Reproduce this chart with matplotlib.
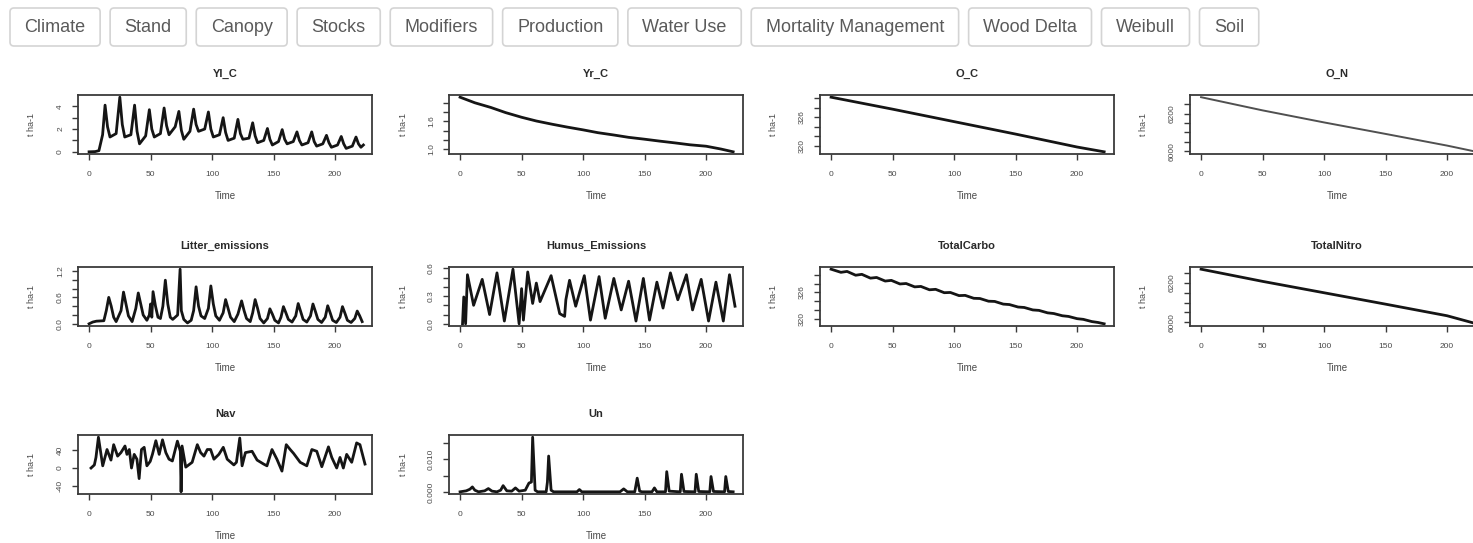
import matplotlib
matplotlib.use("Agg")
import matplotlib.pyplot as plt
from matplotlib.patches import FancyBboxPatch

W, H, DPI = 1473, 543, 100

# ---------------- data ----------------
tabs = ["Climate", "Stand", "Canopy", "Stocks", "Modifiers", "Production",
        "Water Use", "Mortality Management", "Wood Delta", "Weibull", "Soil"]

titles = ["Yl_C", "Yr_C", "O_C", "O_N",
          "Litter_emissions", "Humus_Emissions", "TotalCarbo", "TotalNitro",
          "Nav", "Un"]

x_ticks = [0, 50, 100, 150, 200]

yl_t = [0, 5, 8, 11, 13, 15, 17, 22, 25, 27, 29, 34, 37, 39, 41, 46, 49, 51, 53,
        58, 61, 63, 65, 70, 73, 75, 77, 82, 85, 87, 89, 94, 97, 99, 101, 106, 109,
        111, 113, 118, 121, 123, 125, 130, 133, 135, 137, 142, 145, 147, 149, 154,
        157, 159, 161, 166, 169, 171, 173, 178, 181, 183, 185, 190, 193, 195, 197,
        202, 205, 207, 209, 214, 217, 219, 221, 223]
yl_v = [0.0, 0.02, 0.1, 1.5, 4.1, 2.2, 1.3, 1.6, 4.8, 2.4, 1.3, 1.5, 4.1, 1.8, 0.7,
        1.4, 3.7, 2.0, 1.3, 1.6, 3.85, 2.3, 1.5, 2.2, 3.55, 1.9, 1.1, 1.8, 3.75, 2.4,
        1.8, 2.0, 3.5, 2.0, 1.3, 1.5, 3.0, 1.7, 1.0, 1.2, 2.85, 1.6, 1.1, 1.2, 2.55,
        1.4, 0.8, 1.0, 2.05, 1.1, 0.6, 0.9, 1.95, 1.1, 0.7, 0.9, 1.75, 1.0, 0.6, 0.8,
        1.75, 0.9, 0.5, 0.7, 1.45, 0.8, 0.4, 0.6, 1.35, 0.7, 0.3, 0.5, 1.3, 0.7, 0.4,
        0.6]

yr_t = [0, 12, 25, 37, 50, 62, 75, 87, 100, 112, 125, 137, 150, 162, 175, 187, 200, 212, 222]
yr_v = [2.12, 2.0, 1.9, 1.79, 1.69, 1.61, 1.54, 1.48, 1.42, 1.36, 1.31, 1.26, 1.22,
        1.18, 1.14, 1.10, 1.07, 1.01, 0.95]

oc_t = [0, 50, 100, 150, 200, 222]
oc_v = [330.2, 327.7, 325.1, 322.5, 319.8, 318.8]

on_t = [0, 50, 100, 150, 200, 224]
on_v = [6287, 6217, 6153, 6092, 6030, 5997]

lit_t = [0, 3, 6, 12, 14, 16, 18, 20, 22, 26, 28, 30, 32, 35, 38, 40, 42, 44, 47, 49,
         50, 51, 52, 54, 56, 58, 60, 62, 64, 66, 68, 72, 74, 75, 77, 80, 83, 85, 87,
         89, 91, 94, 97, 99, 101, 103, 106, 109, 111, 113, 115, 118, 121, 124, 126,
         128, 131, 133, 135, 137, 139, 142, 145, 147, 149, 151, 154, 156, 158, 160,
         162, 165, 168, 170, 172, 174, 177, 180, 182, 184, 186, 189, 192, 194, 196,
         198, 201, 204, 206, 208, 210, 213, 216, 218, 220, 222]
lit_v = [0.0, 0.04, 0.06, 0.07, 0.3, 0.6, 0.4, 0.15, 0.05, 0.3, 0.72, 0.45, 0.18,
         0.05, 0.35, 0.70, 0.45, 0.2, 0.08, 0.2, 0.45, 0.15, 0.73, 0.4, 0.15, 0.12,
         0.4, 0.99, 0.45, 0.15, 0.1, 0.2, 1.24, 0.3, 0.1, 0.02, 0.08, 0.3, 0.84, 0.4,
         0.18, 0.12, 0.35, 0.86, 0.45, 0.18, 0.08, 0.25, 0.55, 0.35, 0.15, 0.05, 0.22,
         0.52, 0.3, 0.12, 0.05, 0.25, 0.55, 0.35, 0.12, 0.02, 0.12, 0.34, 0.22, 0.08,
         0.02, 0.15, 0.39, 0.25, 0.1, 0.04, 0.18, 0.46, 0.28, 0.1, 0.04, 0.18, 0.45,
         0.28, 0.1, 0.03, 0.15, 0.41, 0.25, 0.08, 0.03, 0.15, 0.39, 0.24, 0.08, 0.03,
         0.12, 0.29, 0.18, 0.05]

hum_t = [2, 3, 4.5, 6, 11, 18, 24, 30, 36, 43, 48, 50, 51.5, 55, 59, 62, 65, 74, 81,
         85, 86, 89, 94, 101, 106, 113, 118, 125, 131, 137, 143, 149, 154, 160, 165,
         171, 177, 184, 189, 196, 202, 208, 214, 219, 223.5]
hum_v = [0.0, 0.29, 0.0, 0.53, 0.2, 0.48, 0.1, 0.55, 0.03, 0.59, 0.0, 0.38, 0.04,
         0.56, 0.22, 0.44, 0.24, 0.52, 0.11, 0.08, 0.26, 0.47, 0.19, 0.52, 0.04, 0.51,
         0.06, 0.49, 0.15, 0.46, 0.03, 0.49, 0.04, 0.45, 0.17, 0.55, 0.26, 0.53, 0.15,
         0.48, 0.03, 0.45, 0.03, 0.53, 0.19]

tc_t = [0, 8, 13, 20, 25, 32, 37, 44, 49, 56, 61, 68, 73, 80, 85, 92, 97, 104, 109,
        116, 121, 128, 133, 140, 145, 152, 157, 164, 169, 176, 181, 188, 193, 200,
        205, 212, 217, 222]
tc_v = [331.2, 330.5, 330.7, 329.85, 330.05, 329.2, 329.35, 328.55, 328.7, 327.9,
        328.0, 327.25, 327.35, 326.6, 326.7, 325.95, 326.0, 325.3, 325.35, 324.7,
        324.65, 324.05, 324.0, 323.4, 323.3, 322.75, 322.65, 322.1, 322.0, 321.45,
        321.3, 320.8, 320.65, 320.15, 320.0, 319.5, 319.3, 319.0]

tn_t = [0, 50, 100, 150, 200, 224]
tn_v = [6270, 6208, 6150, 6092, 6033, 5992]

nav_t = [1.6, 4.3, 5.6, 7.6, 9.7, 11.1, 14.6, 17.8, 20, 23.2, 25.9, 29.2, 30.8, 32.7,
         34.5, 36.7, 38.9, 40.7, 42.6, 44.8, 47, 49.7, 51.5, 54.3, 57, 59.7, 62.4, 65,
         67.7, 71.8, 74.2, 74.8, 75.6, 78.6, 83.8, 88, 90.7, 93.4, 96.1, 98.8, 101.5,
         105.5, 109.1, 112.3, 117.7, 119.8, 122.5, 124.4, 127.1, 132.5, 136.6, 141.9,
         144.6, 148.7, 152.7, 156.8, 160.3, 163.5, 166.3, 171.6, 177, 181.1, 185.1,
         189.2, 194.6, 197.3, 201.3, 204, 206.7, 209.4, 213.5, 217.5, 220.2, 224.3]
nav_v = [0, 7, 24, 70, 31, 5, 42, 18, 53, 27, 35, 50, 31, 42, 0, 31, 20, -24, 42, 47,
         5, 15, 31, 62, 31, 64, 35, 20, 16, 61, 38, -54, 50, 2, 13, 53, 35, 27, 42, 42,
         20, 31, 47, 20, 7, 13, 68, 5, 35, 38, 18, 9, 5, 42, 20, -7, 53, 42, 33, 13, 5,
         42, 38, 3, 48, 24, 0, 24, 0, 31, 13, 57, 53, 9]

un_t = [0, 5, 8, 10, 12, 15, 20, 23, 26, 30, 33, 35, 38, 42, 45, 48, 53, 56, 58, 59,
        61, 63, 70, 71, 72, 74, 76, 95, 97, 99, 130, 133, 136, 142, 144, 146, 148, 156,
        158, 160, 167, 168, 170, 179, 180, 182, 191, 192, 194, 203, 204, 206, 215, 216,
        218, 222]
un_v = [0, 0.0003, 0.0008, 0.0015, 0.0005, 0, 0.0003, 0.001, 0.0002, 0, 0.0005,
        0.0019, 0.0003, 0.0002, 0.0012, 0.0002, 0.0005, 0.0027, 0.003, 0.0168, 0.0005,
        0, 0, 0.003, 0.011, 0.0005, 0, 0, 0.0007, 0, 0, 0.0009, 0, 0, 0.0042, 0.0002, 0,
        0, 0.0012, 0, 0, 0.0062, 0.0002, 0, 0.0054, 0.0001, 0, 0.0054, 0.0001, 0,
        0.0047, 0.0001, 0, 0.0047, 0.0001, 0]

# y tick values and their printed labels
yl_ticks, yl_lab = [0, 1, 2, 3, 4], ["0", "", "2", "", "4"]
yr_ticks, yr_lab = [1.0, 1.2, 1.4, 1.6, 1.8, 2.0], ["1.0", "", "", "1.6", "", ""]
oc_ticks, oc_lab = [320, 322, 324, 326, 328, 330], ["320", "", "", "326", "", ""]
on_ticks, on_lab = [6000, 6050, 6100, 6150, 6200, 6250], ["6000", "", "", "", "6200", ""]
lit_ticks, lit_lab = [0, 0.2, 0.4, 0.6, 0.8, 1.0, 1.2], ["0.0", "", "", "0.6", "", "", "1.2"]
hum_ticks, hum_lab = [0, 0.1, 0.2, 0.3, 0.4, 0.5, 0.6], ["0.0", "", "", "0.3", "", "", "0.6"]
tc_ticks, tc_lab = [320, 322, 324, 326, 328, 330], ["320", "", "", "326", "", ""]
tn_ticks, tn_lab = [6000, 6050, 6100, 6150, 6200, 6250], ["6000", "", "", "", "6200", ""]
nav_ticks, nav_lab = [-40, 0, 40], ["-40", "0", "40"]
un_ticks, un_lab = [0, 0.005, 0.010, 0.015], ["0.000", "", "0.010", ""]

series = [
    (yl_t, yl_v, yl_ticks, yl_lab),
    (yr_t, yr_v, yr_ticks, yr_lab),
    (oc_t, oc_v, oc_ticks, oc_lab),
    (on_t, on_v, on_ticks, on_lab),
    (lit_t, lit_v, lit_ticks, lit_lab),
    (hum_t, hum_v, hum_ticks, hum_lab),
    (tc_t, tc_v, tc_ticks, tc_lab),
    (tn_t, tn_v, tn_ticks, tn_lab),
    (nav_t, nav_v, nav_ticks, nav_lab),
    (un_t, un_v, un_ticks, un_lab),
]

# ---------------- figure ----------------
plt.rcParams["font.family"] = ["Liberation Sans", "DejaVu Sans"]
fig = plt.figure(figsize=(W / DPI, H / DPI), dpi=DPI)
fig.patch.set_facecolor("white")

ov = fig.add_axes([0, 0, 1, 1])
ov.set_xlim(0, W)
ov.set_ylim(H, 0)
ov.axis("off")
ov.patch.set_alpha(0)

renderer = fig.canvas.get_renderer()
bx = 10
for name in tabs:
    txt = ov.text(0, 27, name, fontsize=13, color="#5a5a5a", ha="left", va="center")
    w = txt.get_window_extent(renderer).width
    bw = w + 29
    txt.set_x(bx + 14.5)
    ov.add_patch(FancyBboxPatch((bx, 8), bw, 38,
                                boxstyle="round,pad=0,rounding_size=4",
                                ec="#d4d4d4", fc="white", lw=1.2, zorder=0))
    bx += bw + 10

col_left = [78, 449, 820, 1190]
row_top = [95, 267, 435]
bw_px, bh_px = 294, 59

for i, (tt, vv, yt, ylab) in enumerate(series):
    r, c = divmod(i, 4)
    L, T = col_left[c], row_top[r]
    ax = fig.add_axes([L / W, 1 - (T + bh_px) / H, bw_px / W, bh_px / H])
    lw = 1.4 if titles[i] == "O_N" else 2.0
    col = "#505050" if titles[i] == "O_N" else "#151515"
    ax.plot(tt, vv, color=col, lw=lw, solid_joinstyle="round")
    ax.set_xlim(-9, 230)
    ax.margins(y=0.04)
    ax.set_xticks(x_ticks)
    ax.set_xticklabels([str(v) for v in x_ticks])
    ax.set_yticks(yt)
    ax.set_yticklabels(ylab)
    for sp in ax.spines.values():
        sp.set_color("#3a3a3a")
        sp.set_linewidth(1.3)
    ax.tick_params(axis="both", length=4, width=1.0, color="#3a3a3a",
                   labelsize=6, labelcolor="#4a4a4a", direction="out")
    ax.tick_params(axis="x", pad=8.5)
    ax.tick_params(axis="y", pad=6)
    for lab in ax.get_yticklabels():
        lab.set_rotation(90)
        lab.set_va("center")
    cx = L + bw_px / 2
    ov.text(cx, T - 21, titles[i], fontsize=8, fontweight="bold", color="#2a2a2a",
            ha="center", va="center")
    ov.text(cx, T + bh_px + 42, "Time", fontsize=7, color="#4a4a4a",
            ha="center", va="center")
    ov.text(L - 46, T + bh_px / 2, "t ha-1", fontsize=6.5, color="#4a4a4a",
            ha="center", va="center", rotation=90)

fig.savefig("out.png", dpi=DPI, facecolor="white")
